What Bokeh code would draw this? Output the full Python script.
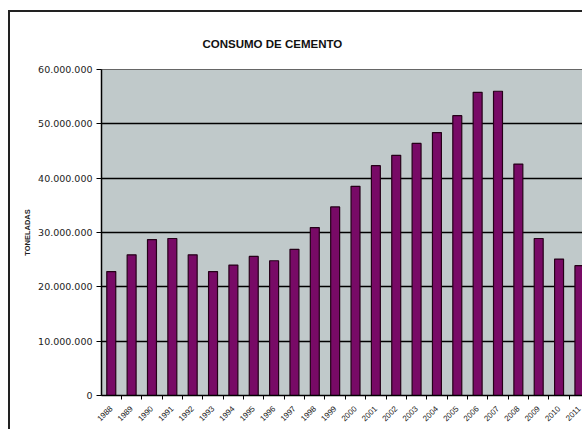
from bokeh.plotting import figure
from bokeh.models import FixedTicker, Range1d
from bokeh.embed import file_html
from bokeh.resources import INLINE
from math import pi

years = list(range(1988, 2012))
consumo = [22.8e6, 25.9e6, 28.7e6, 28.9e6, 25.9e6, 22.8e6, 24.0e6, 25.6e6,
           24.8e6, 26.9e6, 30.9e6, 34.7e6, 38.5e6, 42.3e6, 44.2e6, 46.4e6,
           48.4e6, 51.5e6, 55.8e6, 56.0e6, 42.6e6, 28.9e6, 25.1e6, 23.9e6]
year_labels = [str(y) for y in years]
y_ticks = [0, 10e6, 20e6, 30e6, 40e6, 50e6, 60e6]
y_tick_labels = ["0", "10.000.000", "20.000.000", "30.000.000",
                 "40.000.000", "50.000.000", "60.000.000"]
title_text = "CONSUMO DE CEMENTO"
y_title = "TONELADAS"

p = figure(width=574, height=419, output_backend="svg", toolbar_location=None,
           x_range=Range1d(1987.52, 2011.25), y_range=Range1d(0, 60e6),
           min_border_left=91, min_border_top=57, min_border_bottom=36,
           min_border_right=0, title=title_text)
p.styles = {"margin-left": "8px", "margin-top": "10px",
            "border-left": "2px solid #222", "border-top": "2px solid #222"}

p.title.align = "left"
p.title.offset = 101
p.title.standoff = 40
p.title.text_font = "Liberation Sans"
p.title.text_font_style = "bold"
p.title.text_font_size = "11.5px"
p.title.text_color = "#111111"

p.background_fill_color = "#c0c9ca"
p.border_fill_color = "white"
p.outline_line_color = "#666666"
p.outline_line_width = 1

p.vbar(x=years, top=consumo, width=0.44, fill_color="#780a66",
       line_color="#250018", line_width=1.2)

# grid
p.xgrid.grid_line_color = None
p.ygrid.grid_line_color = "black"
p.ygrid.grid_line_width = 1.6
p.ygrid.level = "underlay"

# y axis
p.yaxis.ticker = FixedTicker(ticks=y_ticks, minor_ticks=[])
p.yaxis.major_label_overrides = {t: l for t, l in zip(y_ticks, y_tick_labels)}
p.yaxis.major_label_text_font = "DejaVu Sans"
p.yaxis.major_label_text_font_size = "9.5px"
p.yaxis.major_label_text_color = "#222222"
p.yaxis.major_tick_out = 5
p.yaxis.major_tick_in = 0
p.yaxis.major_tick_line_color = "black"
p.yaxis.major_label_standoff = 4
p.yaxis.axis_line_color = "black"
p.yaxis.axis_line_width = 1.5
p.yaxis.axis_label = y_title
p.yaxis.axis_label_text_font = "Liberation Sans"
p.yaxis.axis_label_text_font_style = "bold"
p.yaxis.axis_label_text_font_size = "7.5px"
p.yaxis.axis_label_standoff = 3
p.yaxis.axis_label_text_color = "#222222"

# x axis
bounds = [y - 0.5 for y in years] + [years[-1] + 0.5]
p.xaxis.ticker = FixedTicker(ticks=years, minor_ticks=bounds)
p.xaxis.major_label_overrides = {y: l for y, l in zip(years, year_labels)}
p.xaxis.major_label_orientation = pi / 4
p.xaxis.major_label_text_font = "Liberation Sans"
p.xaxis.major_label_text_font_size = "8px"
p.xaxis.major_label_text_color = "#222222"
p.xaxis.major_tick_out = 0
p.xaxis.major_tick_in = 0
p.xaxis.minor_tick_out = 4
p.xaxis.minor_tick_in = 0
p.xaxis.minor_tick_line_color = "black"
p.xaxis.major_label_standoff = 8
p.xaxis.axis_line_color = "black"
p.xaxis.axis_line_width = 1.5

open("out.html", "w").write(file_html(p, INLINE))
